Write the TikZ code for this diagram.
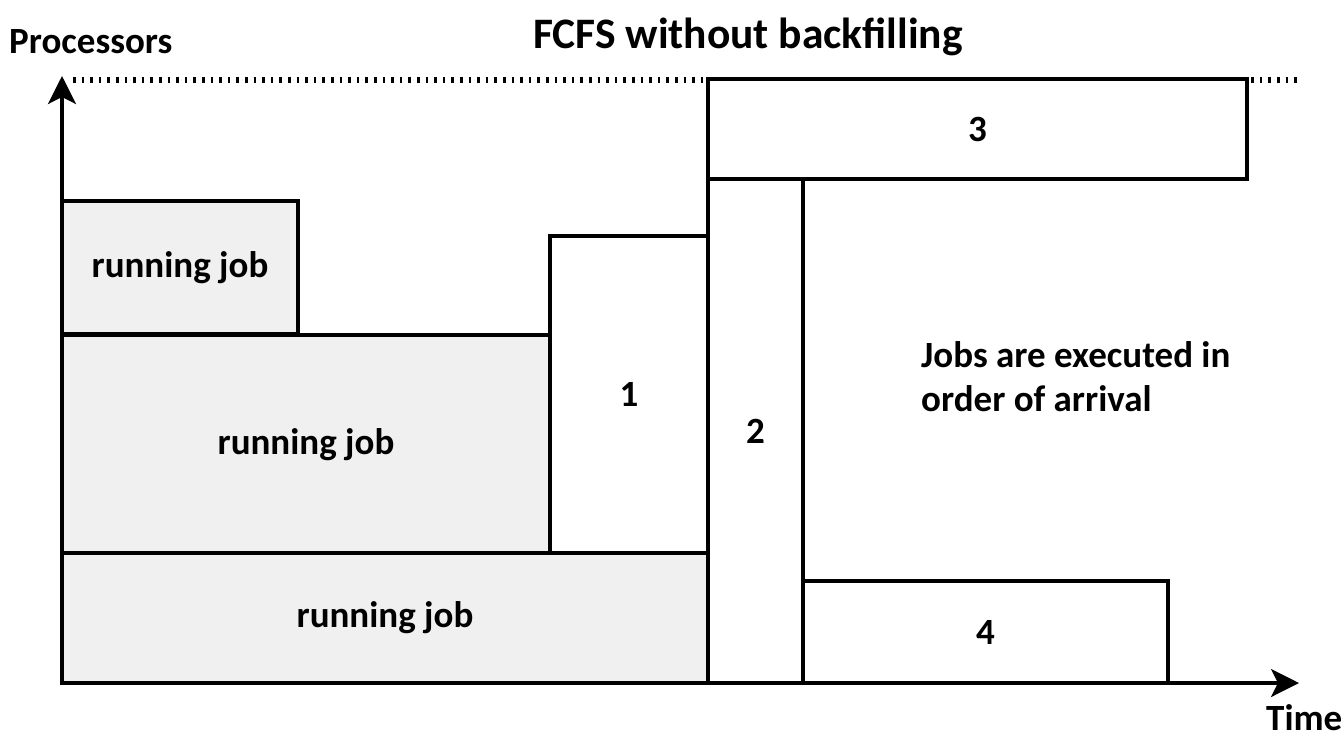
\documentclass[tikz,border=0pt]{standalone}
\usepackage{fontspec}
\setmainfont{Carlito}
\usetikzlibrary{arrows.meta}
\begin{document}
\begin{tikzpicture}[x=1pt,y=-1pt,
  txt/.style={font=\fontsize{37}{44}\selectfont\bfseries},
  titletxt/.style={font=\fontsize{43.5}{50}\selectfont\bfseries},
  jobbox/.style={draw=black,line width=3.5pt,fill=white,inner sep=0pt,outer sep=0pt,txt},
  runbox/.style={jobbox,fill=gray!12},
  axis/.style={line width=3.5pt,-{Stealth[length=28pt,width=28pt,inset=7pt]}},
  capline/.style={line width=6pt,dash pattern=on 2.6pt off 6pt}]
\useasboundingbox (0,0) rectangle (1343,745);
\coordinate (origin) at (62,683);
\coordinate (xstart) at (60,683);
\coordinate (ytip) at (62,76);
\coordinate (xtip) at (1299,683);
\coordinate (capL) at (73,80);
\coordinate (capR) at (1297,80);
\draw[capline] (capL) -- (capR);
% running jobs
\node[runbox,minimum width=236pt,minimum height=133pt] (r1) at (180,267.5) {running job};
\node[runbox,minimum width=488pt,minimum height=220pt] (r2) at (306,445) {running job};
\node[runbox,minimum width=646pt,minimum height=130pt] (r3) at (385,618) {running job};
% queued jobs
\node[jobbox,minimum width=158pt,minimum height=317pt] (j1) at (629,394.5) {1};
\node[jobbox,minimum width=95pt,minimum height=504pt] (j2) at (755.5,431) {2};
\node[jobbox,minimum width=539pt,minimum height=100pt] (j3) at (977.5,129) {3};
\node[jobbox,minimum width=365pt,minimum height=102pt] (j4) at (985.5,632) {4};
% axes
\draw[axis] (origin) -- (ytip);
\draw[axis] (xstart) -- (xtip);
% labels
\node[txt,anchor=base west,inner sep=0pt] (plabel) at (9,53) {Processors};
\node[txt,anchor=base west,inner sep=0pt] (tlabel) at (1266,730) {Time};
\node[titletxt,anchor=base,inner sep=0pt] (title) at (748,48) {FCFS without backfilling};
\node[txt,anchor=west,align=left,inner sep=0pt] (note) at (921,377) {Jobs are executed in\\order of arrival};
\end{tikzpicture}
\end{document}
